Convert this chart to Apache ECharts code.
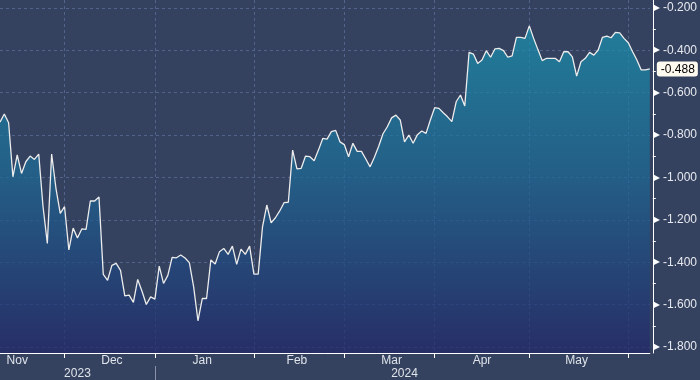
<!DOCTYPE html>
<html><head><meta charset="utf-8">
<script src="https://cdn.jsdelivr.net/npm/echarts@6/dist/echarts.min.js"></script>
<style>html,body{margin:0;padding:0;background:#35425f;}#c{width:700px;height:380px;}</style>
</head><body><div id="c"></div>
<script>
const dates = [
'2023-11-10','2023-11-13','2023-11-14','2023-11-15','2023-11-16','2023-11-17','2023-11-20','2023-11-21','2023-11-22','2023-11-23','2023-11-24','2023-11-27','2023-11-28','2023-11-29','2023-11-30',
'2023-12-01','2023-12-04','2023-12-05','2023-12-06','2023-12-07','2023-12-08','2023-12-11','2023-12-12','2023-12-13','2023-12-14','2023-12-15','2023-12-18','2023-12-19','2023-12-20','2023-12-21','2023-12-22','2023-12-25','2023-12-26','2023-12-27','2023-12-28','2023-12-29',
'2024-01-01','2024-01-02','2024-01-03','2024-01-04','2024-01-05','2024-01-08','2024-01-09','2024-01-10','2024-01-11','2024-01-12','2024-01-15','2024-01-16','2024-01-17','2024-01-18','2024-01-19','2024-01-22','2024-01-23','2024-01-24','2024-01-25','2024-01-26','2024-01-29','2024-01-30','2024-01-31',
'2024-02-01','2024-02-02','2024-02-05','2024-02-06','2024-02-07','2024-02-08','2024-02-09','2024-02-12','2024-02-13','2024-02-14','2024-02-15','2024-02-16','2024-02-19','2024-02-20','2024-02-21','2024-02-22','2024-02-23','2024-02-26','2024-02-27','2024-02-28','2024-02-29',
'2024-03-01','2024-03-04','2024-03-05','2024-03-06','2024-03-07','2024-03-08','2024-03-11','2024-03-12','2024-03-13','2024-03-14','2024-03-15','2024-03-18','2024-03-19','2024-03-20','2024-03-21','2024-03-22','2024-03-25','2024-03-26','2024-03-27','2024-03-28','2024-03-29',
'2024-04-01','2024-04-02','2024-04-03','2024-04-04','2024-04-05','2024-04-08','2024-04-09','2024-04-10','2024-04-11','2024-04-12','2024-04-15','2024-04-16','2024-04-17','2024-04-18','2024-04-19','2024-04-22','2024-04-23','2024-04-24','2024-04-25','2024-04-26','2024-04-29','2024-04-30',
'2024-05-01','2024-05-02','2024-05-03','2024-05-06','2024-05-07','2024-05-08','2024-05-09','2024-05-10','2024-05-13','2024-05-14','2024-05-15','2024-05-16','2024-05-17','2024-05-20','2024-05-21','2024-05-22','2024-05-23','2024-05-24','2024-05-27','2024-05-28','2024-05-29','2024-05-30','2024-05-31',
'2024-06-03','2024-06-04','2024-06-05','2024-06-06','2024-06-07','2024-06-10'
];
const values = [
-0.739,-0.701,-0.742,-0.997,-0.894,-0.981,-0.926,-0.899,-0.915,-0.890,-1.138,-1.311,-0.890,-1.051,-1.169,
-1.138,-1.342,-1.239,-1.286,-1.243,-1.245,-1.110,-1.111,-1.092,-1.457,-1.485,-1.415,-1.405,-1.438,-1.559,-1.555,-1.589,-1.481,-1.537,-1.599,-1.563,
-1.574,-1.418,-1.500,-1.462,-1.377,-1.379,-1.366,-1.380,-1.402,-1.516,-1.676,-1.571,-1.571,-1.389,-1.408,-1.350,-1.335,-1.363,-1.324,-1.410,-1.338,-1.363,-1.324,
-1.456,-1.456,-1.233,-1.130,-1.214,-1.190,-1.158,-1.119,-1.117,-0.871,-0.960,-0.957,-0.899,-0.902,-0.921,-0.871,-0.816,-0.819,-0.784,-0.778,-0.832,
-0.845,-0.902,-0.839,-0.877,-0.877,-0.913,-0.950,-0.905,-0.853,-0.794,-0.761,-0.719,-0.706,-0.729,-0.832,-0.800,-0.839,-0.798,-0.781,-0.792,-0.729,
-0.671,-0.674,-0.695,-0.714,-0.737,-0.643,-0.611,-0.663,-0.410,-0.418,-0.462,-0.446,-0.402,-0.433,-0.394,-0.391,-0.402,-0.433,-0.427,-0.339,-0.339,-0.344,
-0.285,-0.344,-0.397,-0.449,-0.438,-0.438,-0.438,-0.454,-0.407,-0.407,-0.431,-0.522,-0.454,-0.438,-0.410,-0.423,-0.399,-0.339,-0.333,-0.341,-0.316,-0.318,-0.344,
-0.365,-0.407,-0.446,-0.493,-0.493,-0.488
];
const monthStarts = ['2023-12-01','2024-01-01','2024-02-01','2024-03-01','2024-04-01','2024-05-01','2024-06-03'];
const monthLabelDates = ['2023-11-16','2023-12-18','2024-01-16','2024-02-15','2024-03-18','2024-04-16','2024-05-16'];
const monthLabels = ['Nov','Dec','Jan','Feb','Mar','Apr','May'];
const yearStarts = ['2024-01-01'];
const yearLabelDates = ['2023-12-06','2024-03-21'];
const yearLabels = ['2023','2024'];
const lastValue = -0.488;
const yMin = -1.828, yMax = -0.163;

const FONT = "'Liberation Sans Narrow', 'Liberation Sans', Arial, sans-serif";
const chart = echarts.init(document.getElementById('c'), null, {renderer: 'canvas'});
chart.setOption({
  animation: false,
  backgroundColor: '#35425f',
  grid: {left: -2, right: 47, top: 0, bottom: 27, containLabel: false},
  xAxis: [{
    type: 'category', data: dates, boundaryGap: false,
    axisLine: {lineStyle: {color: '#ffffff', width: 1}},
    axisTick: {interval: (i, v) => monthStarts.includes(v), length: 5, lineStyle: {color: '#ffffff'}},
    axisLabel: {interval: (i, v) => monthLabelDates.includes(v),
      formatter: v => monthLabels[monthLabelDates.indexOf(v)] || '',
      color: '#dfe3ea', fontSize: 12, margin: 2, fontFamily: FONT},
    splitLine: {show: true, interval: (i, v) => monthStarts.includes(v),
      lineStyle: {color: '#52648b', type: [3, 3], width: 1}}
  }, {
    type: 'category', data: dates, boundaryGap: false, position: 'bottom', offset: 13,
    axisLine: {show: false},
    axisTick: {show: true, interval: (i, v) => yearStarts.includes(v), length: 14, lineStyle: {color: '#8a93a6'}},
    axisLabel: {interval: (i, v) => yearLabelDates.includes(v),
      formatter: v => yearLabels[yearLabelDates.indexOf(v)] || '',
      color: '#dfe3ea', fontSize: 12, margin: 2, fontFamily: FONT},
    splitLine: {show: false}
  }],
  yAxis: {
    type: 'value', position: 'right', offset: 3, min: yMin, max: yMax, splitNumber: 8, scale: true,
    axisLine: {show: true, lineStyle: {color: '#ffffff', width: 1}},
    axisTick: {show: false},
    minorTick: {show: true, splitNumber: 2, length: 3, lineStyle: {color: '#ffffff'}},
    axisLabel: {showMinLabel: false, showMaxLabel: false, margin: 1,
      formatter: v => '{t|\u25B6}{n|' + v.toFixed(3) + '}',
      rich: {t: {fontFamily: 'DejaVu Sans', fontSize: 8, color: '#ffffff', padding: [0, 3, 0, 0]},
             n: {fontFamily: FONT, fontSize: 12, color: '#e6e9ef'}}},
    splitLine: {show: true, showMinLine: false, showMaxLine: false,
      lineStyle: {color: '#52648b', type: [3, 3], width: 1}},
    axisPointer: {show: true, type: 'line', value: lastValue, status: 'show', triggerTooltip: false,
      lineStyle: {opacity: 0},
      label: {show: true, formatter: p => Number(p.value).toFixed(3), backgroundColor: '#fffaf0',
        color: '#000000', fontSize: 12, fontFamily: FONT, padding: [2, 3, 1, 4], margin: 4,
        borderColor: '#222', borderWidth: 0}}
  },
  series: [{
    type: 'line', data: values, symbol: 'none', smooth: false,
    lineStyle: {color: '#ececec', width: 1.3},
    areaStyle: {origin: 'start', color: new echarts.graphic.LinearGradient(0, 0, 0, 1, [
      {offset: 0, color: '#1995b2'}, {offset: 0.45, color: '#1c6b98'}, {offset: 1, color: '#21266a'}])}
  }]
});
</script></body></html>
